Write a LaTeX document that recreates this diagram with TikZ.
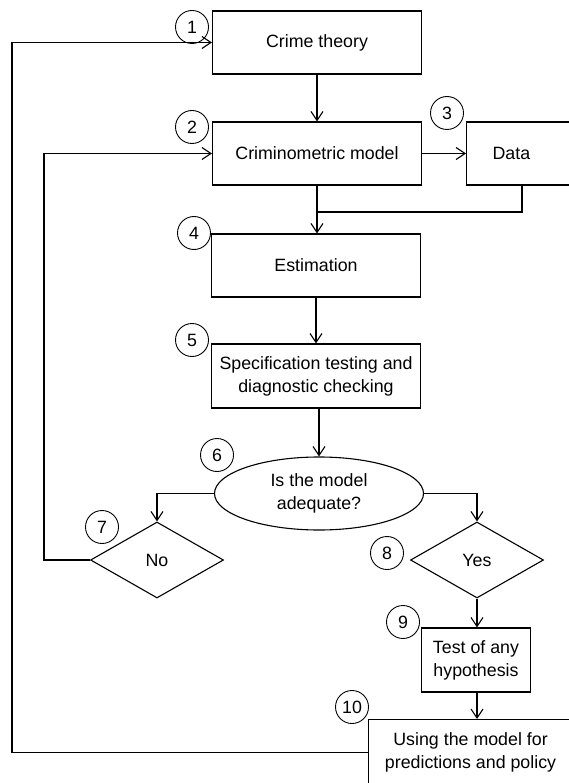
\documentclass[tikz,border=0pt]{standalone}
\usepackage{fontspec}
\setmainfont{Liberation Sans}
\usepackage{tikz}
\usetikzlibrary{arrows.meta}
\usetikzlibrary{shapes.geometric}

\tikzset{
	stage/.style={draw, rectangle, minimum width=209pt, minimum height=63pt, align=center, inner sep=0pt},
	num/.style={draw, circle, line width=0.9pt, minimum size=33pt, inner sep=0pt},
	query/.style={draw, ellipse, minimum width=209pt, minimum height=73pt, inner sep=0pt, align=center},
	answer/.style={draw, diamond, aspect=1.75, minimum width=133pt, minimum height=76pt, inner sep=0pt}
}

\begin{document}
\begin{tikzpicture}[x=1pt, y=-1pt, line width=1.1pt, >={Straight Barb[length=9pt,width=12pt]}, font=\fontsize{17.8}{23}\selectfont]
\useasboundingbox (0,0) rectangle (569,783);
\clip (0,0) rectangle (569,783);

\node[stage] (theory) at (317,42.5) {Crime theory};
\node[stage] (crim) at (317,153.5) {Criminometric model};
\node[stage, minimum width=0pt, anchor=west, text width=100pt, align=left, inner xsep=26pt] (data) at (466,153.5) {Data};
\node[stage] (est) at (316,265.5) {Estimation};
\node[stage, minimum height=64pt] (spec) at (316,376) {Specification testing and\\diagnostic checking};
\node[query] (adeq) at (319,493.5) {Is the model\\adequate?};
\node[answer] (no) at (157,560) {No};
\node[answer] (yes) at (477,560) {Yes};
\node[stage, minimum width=109pt, minimum height=64pt] (test) at (476,660) {Test of any\\hypothesis};
\node[stage, minimum width=204pt, minimum height=66pt, anchor=north west] (use) at (368,719) {Using the model for\\predictions and policy};

\node[num] (n1) at (192,27) {1};
\node[num] (n2) at (192,127) {2};
\node[num] (n3) at (447,113) {3};
\node[num] (n4) at (194,233) {4};
\node[num] (n5) at (192,340) {5};
\node[num] (n6) at (217,455) {6};
\node[num] (n7) at (102,527) {7};
\node[num] (n8) at (387,553) {8};
\node[num] (n9) at (403,622) {9};
\node[num] (n10) at (352,707) {10};

\coordinate (join) at (317,212);
\draw[->] (theory.south) -- (crim.north);
\draw[->] (crim.east) -- (data.west);
\draw (crim.south) -- (join);
\draw ([xshift=56pt]data.south west) |- (join);
\draw[->] (join) -- (join |- est.north);
\draw[->] (est.south) -- (spec.south |- est.south) -- (spec.north);
\draw[->] (adeq.north |- spec.south) -- (adeq.north);
\draw[->] (adeq.west) -| (no.north);
\draw[->] (adeq.east) -| (yes.north);
\draw[->] (no.west) -- ++(-46,0) |- (crim.west);
\draw[->] (yes.south) -- (yes.south |- test.north);
\draw[->] (yes.south |- test.south) -- (yes.south |- use.north);
\draw[->] (use.west) -- ++(-356,0) |- (theory.west);
\end{tikzpicture}
\end{document}
